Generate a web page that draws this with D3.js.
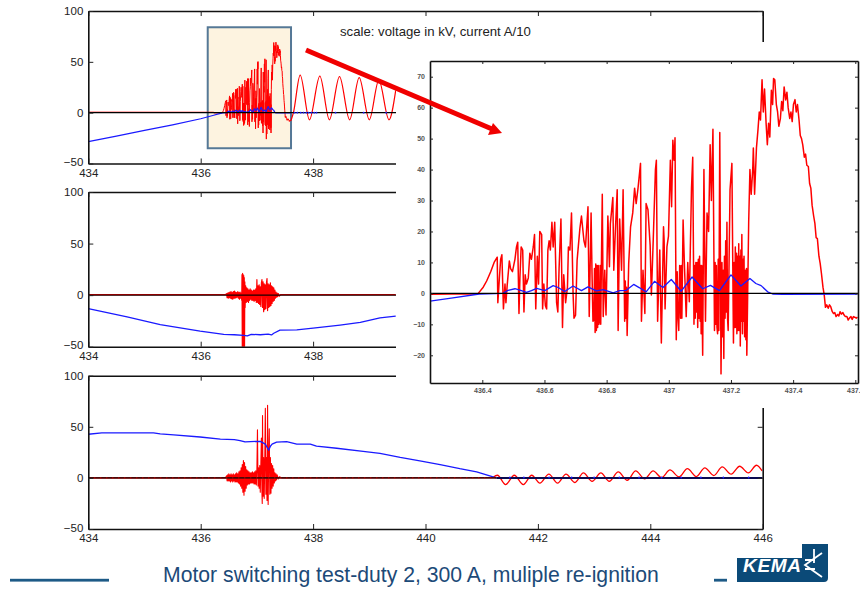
<!DOCTYPE html>
<html>
<head>
<meta charset="utf-8">
<script src="https://cdn.jsdelivr.net/npm/d3@7"></script>
<style>
  html, body { margin: 0; background: #fff; }
  svg { display: block; }
  text { font-family: "Liberation Sans", Arial, sans-serif; }
</style>
</head>
<body>
<script>
// values: [time, value]
const xTicks = [434, 436, 438, 440, 442, 444, 446];
const yTicks = [-50, 0, 50, 100];
const insetXTicks = [436.4, 436.6, 436.8, 437, 437.2, 437.4, 437.6];
const insetYTicks = [-20, -10, 0, 10, 20, 30, 40, 50, 60, 70];

// zoomed red trace, also the burst of the first panel
const redBurst = [
  [436.232,-0.3],[436.3,-0.2],[436.38,-0.2],[436.387,0],[436.403,2],[436.414,4],[436.427,7],[436.438,10],
  [436.448,11.7],[436.45,-3],[436.455,5],[436.459,11],[436.463,12.5],[436.468,-5],[436.473,3],[436.476,-3],
  [436.48,2.5],[436.487,10.5],[436.491,8],[436.497,7],[436.505,11],[436.51,15],[436.514,16.5],[436.518,-6.5],
  [436.521,5],[436.525,15],[436.53,14],[436.534,-6],[436.538,6],[436.542,3],[436.548,5],[436.553,13],
  [436.558,11],[436.564,15],[436.568,19],[436.572,-5],[436.577,12],[436.581,3],[436.585,20],[436.591,19],
  [436.594,-5],[436.598,3],[436.603,-4],[436.607,-5],[436.611,14],[436.615,17],[436.619,14],[436.624,23],
  [436.628,15],[436.633,23],[436.639,-3],[436.643,-6],[436.647,8],[436.653,24],[436.658,-11],[436.662,6],
  [436.668,-3],[436.674,2],[436.677,15],[436.682,14],[436.687,26],[436.692,0],[436.695,-8],
  [436.7,-7],[436.705,10.7],[436.714,21],[436.719,25],[436.727,17],[436.732,15],[436.74,28],[436.744,-7.5],
  [436.75,26],[436.753,6.5],[436.756,-9],[436.759,-8.6],[436.761,8],[436.763,-12.6],[436.765,9.5],[436.767,-12],
  [436.769,9],[436.771,-11],[436.773,9],[436.775,-10],[436.777,-9],[436.779,9],[436.781,-10],[436.783,8],
  [436.786,32],[436.789,-7.5],[436.794,7.5],[436.798,-7],[436.804,25],
  [436.809,8.6],[436.812,22.5],[436.82,31],[436.823,7.5],[436.828,20],[436.834,33.5],[436.837,-12],[436.842,24],
  [436.848,7.5],[436.853,33.5],[436.858,-9],[436.86,4],[436.862,-8],[436.864,2],[436.866,-13.6],[436.871,9.7],[436.877,21.5],[436.884,26],
  [436.89,34],[436.895,29],[436.901,34],[436.909,42],[436.912,-9],[436.917,7.5],[436.923,-6.5],[436.927,29],
  [436.933,27],[436.94,15.5],[436.944,-0.5],[436.95,17.5],[436.957,40],[436.96,43],[436.964,-9],[436.971,14],
  [436.976,-16],[436.98,5],[436.983,21.5],[436.985,17],[436.988,-5],[436.994,15],[436.999,18.5],[437.005,43],
  [437.009,28],[437.013,49.5],[437.017,43],[437.02,50.3],[437.024,-15],[437.027,7],[437.029,-7],[437.032,-12],
  [437.035,9],[437.038,-8],[437.04,9],[437.042,-8],[437.046,23.7],[437.05,10],[437.056,-7.5],[437.061,10],
  [437.066,-2.7],[437.073,34],[437.077,44],
  [437.081,-10],[437.083,9],[437.085,-8],[437.087,10],[437.089,-6],[437.091,10],[437.093,-11],[437.095,11],
  [437.097,-8],[437.099,12],[437.101,-9],[437.103,9],[437.104,-13],[437.106,9],[437.108,-12],[437.109,-20],
  [437.113,40],[437.118,-9],[437.123,26],[437.128,20],[437.133,48],[437.137,30],
  [437.142,53],[437.147,-12],[437.149,10],[437.151,-10],[437.153,9],[437.155,-11],[437.157,-13],[437.159,11],[437.161,-12],[437.164,52],[437.168,-26],
  [437.171,10],[437.173,-14],[437.175,7.5],[437.177,-21],[437.179,12],[437.181,-8],[437.183,17],[437.185,-6],[437.187,23],[437.189,-8],[437.191,-12],
  [437.197,33.5],[437.203,42],[437.208,-16],[437.21,10],[437.212,-11],[437.214,15],[437.216,-11],[437.218,13],[437.219,-13],[437.221,12],[437.223,-12],
  [437.225,16],[437.227,-12],[437.229,12],[437.23,-17],[437.232,14],[437.233,-9],[437.235,19],[437.237,-13],[437.239,11],[437.24,-9],[437.242,12],[437.244,-14],[437.246,7.5],
  [437.248,-15],[437.25,8],[437.251,-20],
  [437.257,23],[437.261,40],[437.265,32],[437.27,40],[437.272,47],[437.276,32],[437.282,47],[437.287,53],
  [437.291,58.6],[437.295,56],[437.3,69],[437.304,58.6],[437.308,66],[437.313,55],[437.317,48],[437.321,55],
  [437.325,50.5],[437.33,65.6],[437.334,61],[437.337,69.4],[437.341,69],[437.346,61],[437.35,58.6],[437.354,54],
  [437.359,56.5],[437.363,62],[437.367,59],[437.371,66.7],[437.376,62.5],[437.38,65],[437.384,60],[437.389,56.5],
  [437.393,58.6],[437.397,55.5],[437.401,61],[437.406,62.6],[437.41,58.6],[437.414,61],[437.419,56],[437.423,51],
  [437.427,50],[437.431,48],[437.436,44],[437.44,45],[437.444,41.4],[437.449,41],[437.453,35.5],[437.457,34],
  [437.461,28.5],[437.466,25],[437.47,22.6],[437.474,18],[437.478,17.7],[437.483,12],[437.487,9.7],[437.491,6.5],
  [437.496,2],[437.5,-0.5],[437.504,-4.5],[437.508,-3.7],[437.513,-4.8],[437.517,-3.7],[437.521,-4.3],[437.526,-5.9],
  [437.53,-6.5],[437.534,-6.2],[437.538,-7.5],[437.543,-6.8],[437.547,-7.3],[437.551,-5.9],[437.555,-6.7],[437.56,-6.2],
  [437.564,-7],[437.568,-7.5],[437.573,-7.5],[437.577,-8.6],[437.581,-8],[437.586,-7.5],[437.59,-8.4],[437.594,-7.5],
  [437.598,-7.7],[437.603,-8],[437.607,-7.7]
];

// zoomed blue trace
const blueBurst = [
  [436.232,-2.5],[436.3,-1.5],[436.39,-0.2],[436.467,0],[436.483,1],[436.505,1.5],[436.526,0.9],[436.542,0.3],
  [436.558,0.9],[436.575,1.6],[436.601,0.9],[436.628,2.5],[436.644,1.9],[436.665,0.6],[436.692,2.4],[436.719,0.9],
  [436.74,2.1],[436.767,0.8],[436.789,1.2],[436.821,0.2],[436.842,0.9],[436.863,1],[436.887,2.9],[436.906,1.8],
  [436.927,0.5],[436.954,3.9],[436.981,1.9],[437.008,4.5],[437.04,0.7],[437.075,5.3],[437.109,1.5],[437.134,2.6],
  [437.163,0.9],[437.2,6],[437.232,2.4],[437.261,4.8],[437.28,3.2],[437.297,2.5],[437.318,0.5],[437.334,-0.2],
  [437.366,-0.3],[437.607,-0.2]
];

// first panel, before and after the burst
const red1Start = [[434,0.5],[436.232,0.4]];
const red1Tail = [
  [437.65,0],[437.77,37],[437.935,-7],[438.12,36],[438.29,-7],[438.47,35.5],[438.65,-7],[438.82,34.5],
  [439,-7],[439.17,32],[439.35,-7],[439.47,22]
];
const blue1Start = [[434,-28.5],[434.5,-23],[435,-17.5],[435.5,-12],[436,-6],[436.232,-2.5]];
const blue1Specks = [437.67,437.72,437.78,437.83,437.88,437.92,437.97,438.02,438.06,438.4,438.9,439.3];

// second panel
const blue2 = [
  [434,-13],[434.69,-21],[435.28,-28.5],[435.99,-35],[436.41,-38],[436.6,-38.4],[436.76,-39],[436.83,-39.6],[436.9,-38],
  [437.06,-38.4],[437.2,-37.8],[437.26,-38.6],[437.3,-37],[437.41,-34],[437.71,-33.6],[438,-32],[438.48,-29],
  [438.84,-26.5],[439.19,-22],[439.47,-20.4]
];
const red2 = [
  [434,0.4],[436.44,0.4],[436.46,1.5],[436.47,-2.5],[436.48,2],[436.49,-3],[436.5,2.5],[436.51,-2.5],[436.52,3],
  [436.53,-3],[436.54,3.5],[436.55,-3.5],[436.56,2.5],[436.57,-4],[436.58,3.5],[436.59,-3],[436.6,4],[436.61,-3],
  [436.62,3],[436.63,-2.5],[436.64,2.5],[436.65,-2],[436.66,3.5],[436.67,-3],[436.68,2.5],[436.69,-4],[436.7,3],
  [436.71,-3],[436.72,2],[436.73,-5],[436.735,20],[436.74,-50],[436.745,21],[436.75,-50],[436.755,20],[436.76,-50],
  [436.765,19],[436.77,-50],[436.775,17],[436.78,-50],[436.785,13],[436.79,-12],[436.8,9],[436.81,-7],[436.82,7],
  [436.83,-6],[436.84,6],[436.85,-7],[436.86,5],[436.87,-5],[436.88,6],[436.89,-4],[436.9,5],[436.91,-5],
  [436.92,4],[436.93,-5],[436.94,5],[436.95,-6],[436.96,5],[436.97,-5],[436.98,6],[436.99,-7],[437,15],[437.01,-7],
  [437.02,9],[437.03,-8],[437.04,10],[437.05,-9],[437.06,8],[437.07,-11],[437.08,12],[437.09,15],[437.1,-12],
  [437.11,13],[437.12,-16],[437.13,11],[437.14,-14],[437.15,10],[437.16,-13],[437.17,12],[437.18,16],[437.19,-15],
  [437.2,11],[437.21,-12],[437.22,10],[437.23,-11],[437.24,12],[437.25,-10],[437.26,9],[437.27,-8],[437.28,8],
  [437.29,-6],[437.3,7],[437.31,-5],[437.32,5],[437.33,-3],[437.34,3],[437.35,-2],[437.36,2],[437.37,-1.5],
  [437.38,1.5],[437.4,-1],[437.42,0.4],[439.47,0.4]
];

// third panel
const blue3 = [
  [434,42.7],[434.24,44],[435.16,44],[435.28,43],[435.52,42],[435.99,40],[436.35,38],[436.6,37.4],[436.7,36.5],[436.79,35.3],
  [437.06,35.8],[437.15,33],[437.18,30],[437.21,27],[437.24,31],[437.27,33],[437.35,35],[437.53,35.5],[437.71,33],
  [437.95,33],[438.06,31],[438.42,29],[438.89,26],[439.19,24],[439.55,20],[439.9,16.6],[440.26,13],[440.61,9],
  [440.91,6],[441.26,0]
];
const blue3Specks = [441.5,441.75,442.2,442.6,443,443.45,443.8,444.2,444.55,444.9,445.3,445.75];
const red3Burst = [
  [434,0],[436.44,0],[436.46,2],[436.47,-3],[436.48,3],[436.49,-3],[436.5,4],[436.51,-3],[436.52,3],[436.53,-4],
  [436.54,4],[436.55,-3],[436.56,3],[436.57,-4],[436.58,4],[436.59,-3],[436.6,3],[436.61,-4],[436.62,4],[436.63,-4],
  [436.64,5],[436.65,-4],[436.66,4],[436.67,-5],[436.68,6],[436.69,-6],[436.7,7],[436.71,-8],[436.72,10],[436.73,-10],
  [436.74,13],[436.75,-14],[436.76,17],[436.77,-17],[436.78,15],[436.79,-13],[436.8,11],[436.81,-10],[436.82,8],
  [436.83,-7],[436.84,7],[436.85,-6],[436.86,6],[436.87,-6],[436.88,5],[436.89,-5],[436.9,5],[436.91,-5],[436.92,6],
  [436.93,-5],[436.94,5],[436.95,-6],[436.96,6],[436.97,-6],[436.98,7],[436.99,-7],[437,9],[437.01,47],[437.02,-8],
  [437.03,10],[437.04,-10],[437.05,12],[437.06,-14],[437.07,13],[437.08,39],[437.09,-15],[437.095,-25],[437.1,61],
  [437.11,-18],[437.12,20],[437.13,-20],[437.14,16],[437.15,68],[437.16,-16],[437.17,20],[437.18,-22],[437.19,71],
  [437.2,-26],[437.21,18],[437.22,48],[437.23,-16],[437.24,20],[437.25,-15],[437.26,14],[437.27,-10],[437.28,12],
  [437.29,-8],[437.3,9],[437.31,-5],[437.32,5],[437.33,-3],[437.34,4],[437.35,-2],[437.36,3],[437.38,-1],[437.4,1],
  [437.45,0],[441.2,0.4]
];
const red3Tail = [
  [441.2,0.4],[441.28,2.6],[441.425,-6.5],[441.58,2.6],[441.74,-6.5],[441.89,2.6],[442.035,-5.2],[442.195,3.6],
  [442.35,-5.2],[442.5,3.6],[442.66,-4.5],[442.81,4.9],[442.965,-3.3],[443.12,4.9],[443.27,-3.3],[443.43,5.9],
  [443.59,-2.3],[443.74,6.8],[443.9,-1],[444.05,6.8],[444.2,0.3],[444.35,7.8],[444.51,1],[444.66,9],[444.82,1.3],
  [444.97,9.8],[445.13,2.3],[445.28,10.7],[445.44,3.6],[445.59,11.4],[445.745,4.9],[445.89,12.4],[445.99,6.8]
];

const titleText = "Motor switching test-duty 2, 300 A, muliple re-ignition";
const scaleText = "scale: voltage in kV, current A/10";
const highlightT = [436.125, 437.607];
const highlightV = [84, -35];

const RED = "#ff0000", BLUE = "#1a1aff", NAVY = "#0b4a78";

const svg = d3.select("body").append("svg").attr("width", 860).attr("height", 590);
const x = d3.scaleLinear().domain([434, 446]).range([88.3, 762.7]);

function makeLine(xs, ys) {
  return d3.line().x((d) => xs(d[0])).y((d) => ys(d[1]));
}

function drawAxes(g, xs, ys, top, bottom, left, right, xVals, yVals, fmt, size, padding) {
  g.append("g").attr("transform", "translate(0," + bottom + ")")
    .call(d3.axisBottom(xs).tickValues(xVals).tickSizeOuter(0).tickSizeInner(-size).tickPadding(padding).tickFormat(fmt));
  g.append("g").attr("transform", "translate(0," + top + ")")
    .call(d3.axisTop(xs).tickValues(xVals).tickSizeOuter(0).tickSizeInner(-size).tickFormat(""));
  const yAxis = g.append("g").attr("transform", "translate(" + left + ",0)")
    .call(d3.axisLeft(ys).tickValues(yVals).tickSizeOuter(0).tickSizeInner(-size).tickPadding(padding));
  g.append("g").attr("transform", "translate(" + right + ",0)")
    .call(d3.axisRight(ys).tickValues(yVals).tickSizeOuter(0).tickSizeInner(-size).tickFormat(""));
  g.selectAll("path.domain").attr("stroke", "#111").attr("stroke-width", 1.6);
  g.selectAll(".tick line").attr("stroke", "#222").attr("stroke-width", 1);
  g.selectAll("text").filter(function () { return this.textContent === ""; }).remove();
  return yAxis;
}

// panels 1 and 2 only show x labels up to where the white sheet starts
function drawPanel(id, top, bottom, lastLabel, draw) {
  const g = svg.append("g");
  const y = d3.scaleLinear().domain([-50, 100]).range([bottom, top]);
  g.append("clipPath").attr("id", id).append("rect")
    .attr("x", x.range()[0]).attr("y", top).attr("width", x.range()[1] - x.range()[0]).attr("height", bottom - top);
  const plot = g.append("g").attr("clip-path", "url(#" + id + ")");
  draw(plot, makeLine(x, y), y);
  const yAxis = drawAxes(g, x, y, top, bottom, x.range()[0], x.range()[1], xTicks, yTicks, (d) => (d <= lastLabel ? String(d) : ""), 5, 5);
  g.selectAll("text").attr("font-size", 11.5).attr("fill", "#222");
  // lift the bottom label clear of the first x label
  yAxis.selectAll("text").filter((d) => d === -50).attr("y", -1.5);
  return g;
}

function addPath(g, data, line, color, width) {
  return g.append("path").datum(data).attr("d", line).attr("fill", "none")
    .attr("stroke", color).attr("stroke-width", width).attr("stroke-linejoin", "round");
}

function addZero(g, line, from, to, color, width) {
  return addPath(g, [[from, 0], [to, 0]], line, color, width);
}

// panel 1
drawPanel("clip1", 11, 163.5, 438, (g, line, y) => {
  g.append("rect")
    .attr("x", x(highlightT[0])).attr("y", y(highlightV[0]))
    .attr("width", x(highlightT[1]) - x(highlightT[0])).attr("height", y(highlightV[1]) - y(highlightV[0]))
    .attr("fill", "#fdf3e0").attr("stroke", "#557896").attr("stroke-width", 2);
  addPath(g, red1Start.concat(redBurst), line, RED, 1);
  addPath(g, [redBurst[redBurst.length - 1]].concat(red1Tail), line.curve(d3.curveMonotoneX), RED, 1.2);
  line.curve(d3.curveLinear);
  addPath(g, blue1Start.concat(blueBurst), line, BLUE, 1.2);
  addZero(g, line, 434, 446, "#000", 1.3);
  g.selectAll(null).data(blue1Specks).enter().append("circle")
    .attr("cx", (d) => x(d)).attr("cy", y(0)).attr("r", 0.9).attr("fill", BLUE);
});

// panel 2
drawPanel("clip2", 192, 346.7, 438, (g, line) => {
  addPath(g, red2, line, RED, 1.2);
  addPath(g, blue2, line, BLUE, 1.3);
  addZero(g, line, 434, 446, "#1a0000", 1.4);
});

// panel 3
drawPanel("clip3", 375.7, 529, 446, (g, line, y) => {
  addPath(g, red3Burst, line, RED, 1.1);
  addPath(g, red3Tail, line.curve(d3.curveMonotoneX), RED, 1.3);
  line.curve(d3.curveLinear);
  addPath(g, blue3, line, BLUE, 1.3);
  addZero(g, line, 434, 441.26, "#4a0808", 1.8);
  addZero(g, line, 434, 441.26, RED, 1.8).attr("stroke-dasharray", "1 5").attr("opacity", 0.5);
  addZero(g, line, 441.26, 446, "#0a0a50", 2);
  g.selectAll(null).data(blue3Specks).enter().append("circle")
    .attr("cx", (d) => x(d)).attr("cy", y(0.4)).attr("r", 0.9).attr("fill", BLUE);
});

// white sheet the zoomed plot sits on
svg.append("rect").attr("x", 396).attr("y", 42).attr("width", 380).attr("height", 366).attr("fill", "#fff");

svg.append("text").attr("x", 340).attr("y", 36).attr("font-size", 13.2).attr("fill", "#222").text(scaleText);

// inset
const inset = svg.append("g");
const ix = d3.scaleLinear().domain([436.4, 437.6]).range([482.3, 855.3]);
const iy = d3.scaleLinear().domain([-20, 70]).range([355.3, 76.7]);
const iBox = { left: 430, right: 858, top: 61, bottom: 383 };
ix.domain([ix.invert(iBox.left), ix.invert(iBox.right)]).range([iBox.left, iBox.right]);
iy.domain([iy.invert(iBox.bottom), iy.invert(iBox.top)]).range([iBox.bottom, iBox.top]);
inset.append("rect").attr("x", iBox.left).attr("y", iBox.top)
  .attr("width", iBox.right - iBox.left).attr("height", iBox.bottom - iBox.top).attr("fill", "#fff");
const iLine = makeLine(ix, iy);
inset.append("clipPath").attr("id", "clipInset").append("rect").attr("x", iBox.left).attr("y", iBox.top)
  .attr("width", iBox.right - iBox.left).attr("height", iBox.bottom - iBox.top);
const iPlot = inset.append("g").attr("clip-path", "url(#clipInset)");
addPath(iPlot, redBurst, iLine, RED, 1.5);
addPath(iPlot, blueBurst, iLine, BLUE, 1.3);
addZero(iPlot, iLine, 436.232, 437.61, "#000", 1.4);
drawAxes(inset, ix, iy, iBox.top, iBox.bottom, iBox.left, iBox.right, insetXTicks, insetYTicks, (d) => d3.format(".4~f")(d), 3, 5);
inset.selectAll("text").attr("font-size", 7).attr("font-weight", "bold").attr("fill", "#555");

// arrow
svg.append("line").attr("x1", 306).attr("y1", 50).attr("x2", 492).attr("y2", 129)
  .attr("stroke", "#f00000").attr("stroke-width", 5);
svg.append("path").attr("d", "M502,133 L488,135 L493,123 Z").attr("fill", "#f00000");

// footer
svg.append("text").attr("x", 163).attr("y", 582).attr("font-size", 21.2).attr("fill", "#1c4a78").text(titleText);
svg.append("rect").attr("x", 10).attr("y", 578.8).attr("width", 99).attr("height", 2.8).attr("fill", "#1d5a86");
svg.append("rect").attr("x", 714).attr("y", 578.8).attr("width", 13).attr("height", 2.8).attr("fill", "#1d5a86");

// logo
const logo = svg.append("g");
logo.append("path").attr("d", "M737,558 H802 V544 H828 V578 Q828,582 824,582 H737 Z").attr("fill", NAVY);
logo.append("text").attr("x", 743).attr("y", 572).attr("font-size", 19).attr("font-weight", "bold")
  .attr("font-style", "italic").attr("fill", "#fff").attr("textLength", 58).text("KEMA");
logo.append("path").attr("d", "M814,549 V563 M822,553 L805,565 L822,577 M805,560 H815 M805,569 H815")
  .attr("fill", "none").attr("stroke", "#fff").attr("stroke-width", 1.8);
</script>
</body>
</html>
